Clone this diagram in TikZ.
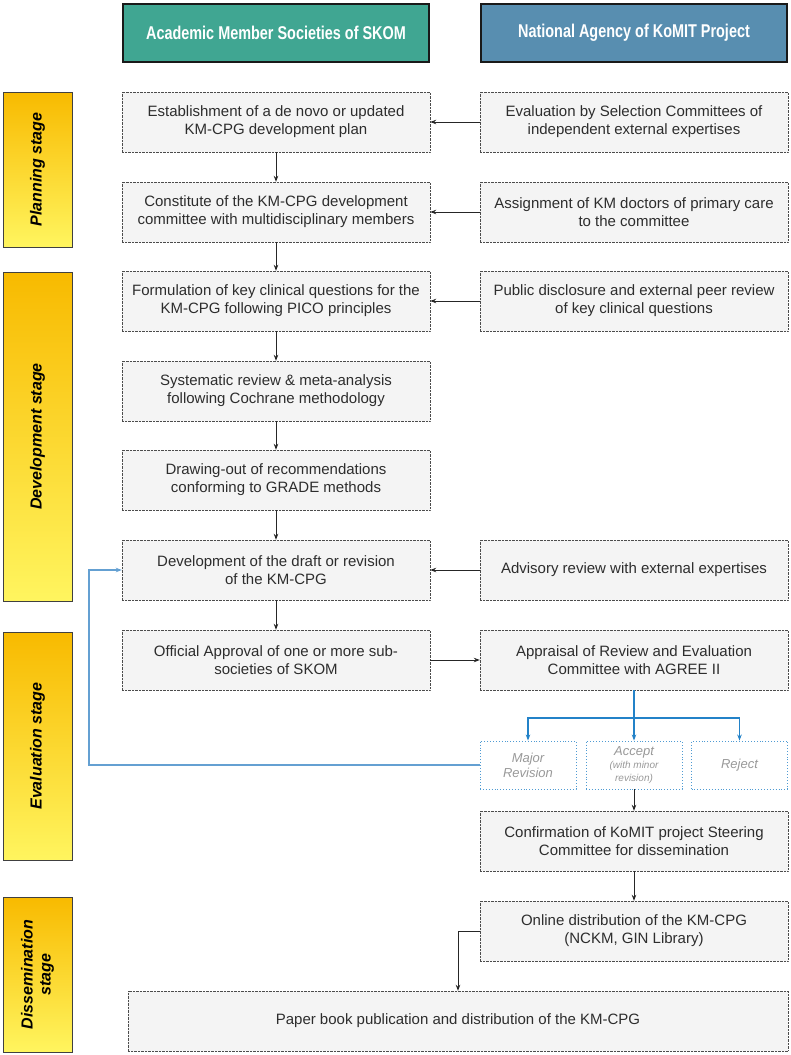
\documentclass[tikz,border=0pt]{standalone}
\usepackage{fontspec}
\setmainfont{Liberation Sans}
\newfontfamily\headfont{Liberation Sans}[FakeStretch=0.78]
\usetikzlibrary{arrows.meta}

\definecolor{headteal}{RGB}{64,166,146}
\definecolor{headblue}{RGB}{88,142,176}
\definecolor{boxgray}{RGB}{244,244,244}
\definecolor{stageorange}{RGB}{248,186,0}
\definecolor{stageyellow}{RGB}{255,245,95}
\definecolor{branchblue}{RGB}{35,130,200}
\definecolor{loopblue}{RGB}{100,160,210}
\definecolor{textgray}{RGB}{45,45,45}

\begin{document}
\begin{tikzpicture}[x=1pt,y=-1pt,>={Stealth[length=6pt,width=4.5pt]},
    headbox/.style={rectangle,draw=black!90,line width=2.5pt,minimum width=306pt,minimum height=58pt,text=white,font=\headfont\fontsize{18.5}{22}\selectfont\bfseries},
    procbox/.style={rectangle,draw=black!70,densely dotted,fill=boxgray,minimum width=308pt,minimum height=60pt,align=center,text=textgray,font=\fontsize{15}{18}\selectfont,inner sep=2pt},
    stagebox/.style={rectangle,rotate=90,draw=black!75,line width=0.8pt,top color=stageorange,bottom color=stageyellow,minimum height=69pt,align=center,font=\fontsize{16}{18}\selectfont\bfseries\itshape},
    decbox/.style={rectangle,draw=branchblue!80,dotted,line width=0.9pt,fill=white,minimum width=96pt,minimum height=48pt,align=center,text=black!40,font=\fontsize{13}{15}\selectfont\itshape,inner sep=1pt},
    flow/.style={draw=black!85,line width=0.9pt},
    branch/.style={draw=branchblue,line width=1.1pt},
    loop/.style={draw=loopblue,line width=1.3pt}]
    \useasboundingbox (0,0) rectangle (791,1055);

    % column heads
    \node[headbox,fill=headteal] (hsoc) at (276,33) {Academic Member Societies of SKOM};
    \node[headbox,fill=headblue] (hagency) at (634,33) {National Agency of KoMIT Project};

    % stages
    \node[stagebox,minimum width=155pt] (splan) at (37.5,169.5) {Planning stage};
    \node[stagebox,minimum width=329pt] (sdev) at (37.5,436.5) {Development stage};
    \node[stagebox,minimum width=228pt] (seval) at (37.5,746) {Evaluation stage};
    \node[stagebox,minimum width=155pt] (sdiss) at (37.5,974.5) {Dissemination\\stage};

    \begin{scope}[every node/.style={procbox}]
        \node (soc1) at (276,122) {Establishment of a de novo or updated\\KM-CPG development plan};
        \node (soc2) at (276,212) {Constitute of the KM-CPG development\\committee with multidisciplinary members};
        \node (soc3) at (276,301) {Formulation of key clinical questions for the\\KM-CPG following PICO principles};
        \node (soc4) at (276,391) {Systematic review \& meta-analysis\\following Cochrane methodology};
        \node (soc5) at (276,480) {Drawing-out of recommendations\\conforming to GRADE methods};
        \node (soc6) at (276,570) {Development of the draft or revision\\of the KM-CPG};
        \node (soc7) at (276,660) {Official Approval of one or more sub-\\societies of SKOM};
        \node (ag1) at (634,122) {Evaluation by Selection Committees of\\independent external expertises};
        \node (ag2) at (634,212) {Assignment of KM doctors of primary care\\to the committee};
        \node (ag3) at (634,301) {Public disclosure and external peer review\\of key clinical questions};
        \node (ag4) at (634,570) {Advisory review with external expertises};
        \node (ag5) at (634,660) {Appraisal of Review and Evaluation\\Committee with AGREE II};
        \node (confirm) at (634,841) {Confirmation of KoMIT project Steering\\Committee for dissemination};
        \node (online) at (634,931) {Online distribution of the KM-CPG\\(NCKM, GIN Library)};
        \node[minimum width=660pt] (paper) at (458,1021) {Paper book publication and distribution of the KM-CPG};
    \end{scope}

    \begin{scope}[every node/.style={decbox}]
        \node (major) at (528,765) {Major\\Revision};
        \node (accept) at (634,765) {Accept\\[-2pt]{\fontsize{10}{12}\selectfont(with minor}\\[-2pt]{\fontsize{10}{12}\selectfont revision)}};
        \node (reject) at (739.5,765) {Reject};
    \end{scope}

    \coordinate (split) at (634,718);
    \coordinate (back) at (89,765);

    \draw[flow] (soc1) edge [->] (soc2);
    \draw[flow] (soc2) edge [->] (soc3);
    \draw[flow] (soc3) edge [->] (soc4);
    \draw[flow] (soc4) edge [->] (soc5);
    \draw[flow] (soc5) edge [->] (soc6);
    \draw[flow] (soc6) edge [->] (soc7);
    \draw[flow] (ag1) edge [->] (soc1);
    \draw[flow] (ag2) edge [->] (soc2);
    \draw[flow] (ag3) edge [->] (soc3);
    \draw[flow] (ag4) edge [->] (soc6);
    \draw[flow] (soc7) edge [->] (ag5);

    \draw[branch,->] (ag5) -- (accept);
    \draw[branch,->] (split) -| (major);
    \draw[branch,->] (split) -| (reject);
    \draw[loop,->] (major) -- (back) |- (soc6);

    \draw[flow] (accept) edge [->] (confirm);
    \draw[flow] (confirm) edge [->] (online);
    \draw[flow,->] (online) -| (paper);
\end{tikzpicture}
\end{document}
